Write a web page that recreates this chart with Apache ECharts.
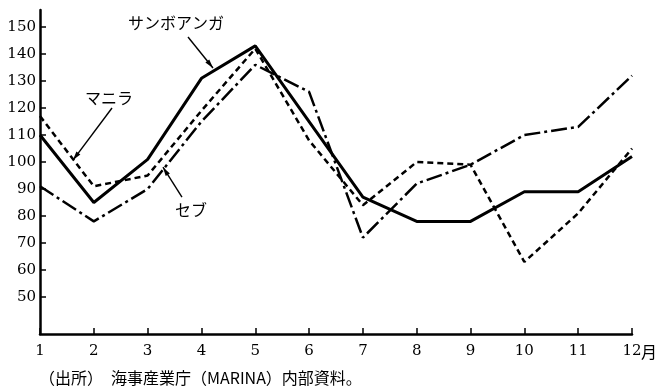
<!DOCTYPE html>
<html><head><meta charset="utf-8">
<script src="https://cdn.jsdelivr.net/npm/echarts@6/dist/echarts.min.js"></script>
<style>html,body{margin:0;padding:0;background:#fff}#c{width:660px;height:387px}</style>
</head><body><div id="c"></div>
<script>
const months = [1,2,3,4,5,6,7,8,9,10,11,12];
const zamboanga = [110,85,101,131,143,115,87,78,78,89,89,102];
const manila = [117,91,95,119,142,108,84,100,99,63,81,105];
const cebu = [91,78,90,115,136,126,72,92,99,110,113,132];
const yTicks = [50,60,70,80,90,100,110,120,130,140,150];
const seriesNames = ['サンボアンガ','マニラ','セブ'];
const sourceNote = '（出所）　海事産業庁（MARINA）内部資料。';
const monthUnit = '月';

const serif = 'DejaVu Serif';
const cjk = '"Noto Sans CJK JP","Noto Sans",sans-serif';

const chart = echarts.init(document.getElementById('c'), null, {renderer:'canvas'});
const pair = (arr) => months.map((m,i)=>[m, arr[i]]);

chart.setOption({
  animation:false,
  backgroundColor:'#fff',
  grid:{left:40,right:28,top:10,bottom:53},
  xAxis:{type:'value',min:1,max:12,interval:1,
    axisLine:{lineStyle:{color:'#000',width:2.5}},
    axisTick:{inside:true,length:6,lineStyle:{color:'#000',width:1.5}},
    axisLabel:{color:'#000',fontFamily:serif,fontSize:15,margin:10},
    splitLine:{show:false}},
  yAxis:{type:'value',min:36.3,max:156.3,
    axisLine:{show:true,lineStyle:{color:'#000',width:2.5}},
    axisTick:{show:true,inside:true,length:6,customValues:yTicks,lineStyle:{color:'#000',width:1.5}},
    axisLabel:{color:'#000',fontFamily:serif,fontSize:15,margin:4,customValues:yTicks},
    splitLine:{show:false}},
  series:[
    {name:seriesNames[0],type:'line',data:pair(zamboanga),symbol:'none',
      lineStyle:{color:'#000',width:3,type:'solid'}},
    {name:seriesNames[1],type:'line',data:pair(manila),symbol:'none',
      lineStyle:{color:'#000',width:2.5,type:[6,4]}},
    {name:seriesNames[2],type:'line',data:pair(cebu),symbol:'none',
      lineStyle:{color:'#000',width:2.5,type:[16,4,3,4]}}
  ]
});

// annotation anchors in data coordinates
const notes = [
  {text:seriesNames[0], at:[2.635,151.5], from:[3.75,146.3], to:[4.214,134.8]},
  {text:seriesNames[1], at:[1.836,123.7], from:[2.338,120.0], to:[1.613,100.7]},
  {text:seriesNames[2], at:[3.508,82.2], from:[3.638,87.0], to:[3.285,98.1]}
];
const px = (p)=>chart.convertToPixel({gridIndex:0}, p);
const g = [];
notes.forEach(n=>{
  const t = px(n.at), a = px(n.from), b = px(n.to);
  g.push({type:'text',x:t[0],y:t[1],style:{text:n.text,fill:'#000',font:'16px '+cjk,
    textVerticalAlign:'middle',textAlign:'left',letterSpacing:2}});
  g.push({type:'line',shape:{x1:a[0],y1:a[1],x2:b[0],y2:b[1]},style:{stroke:'#000',lineWidth:1.4}});
  const dx=b[0]-a[0], dy=b[1]-a[1], L=Math.hypot(dx,dy), ux=dx/L, uy=dy/L;
  const hl=9, hw=2.5;
  const bx=b[0]-ux*hl, by=b[1]-uy*hl;
  g.push({type:'polygon',shape:{points:[[b[0],b[1]],[bx-uy*hw,by+ux*hw],[bx+uy*hw,by-ux*hw]]},style:{fill:'#000'}});
});
const p12 = px([12,36.3]);
g.push({type:'text',x:p12[0]+9,y:p12[1]+18,style:{text:monthUnit,fill:'#000',font:'16px '+cjk,textVerticalAlign:'middle',textAlign:'left'}});
const p1 = px([1,36.3]);
g.push({type:'text',x:p1[0]-1,y:p1[1]+44,style:{text:sourceNote,fill:'#000',font:'16px '+cjk,textVerticalAlign:'middle',textAlign:'left'}});
chart.setOption({graphic:g});
</script></body></html>
